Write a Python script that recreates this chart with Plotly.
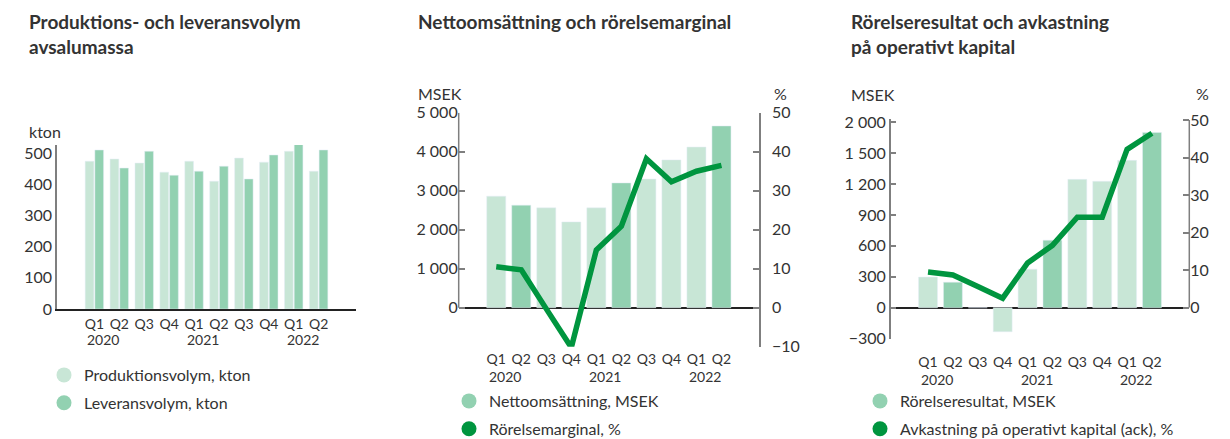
import plotly.graph_objects as go

# ---------------- data ----------------
quarters = ["Q1", "Q2", "Q3", "Q4", "Q1", "Q2", "Q3", "Q4", "Q1", "Q2"]
years = ["2020", "2021", "2022"]
year_idx = [0, 4, 8]

produktion = [474, 481, 468, 439, 474, 410, 484, 471, 506, 442]
leverans = [510, 452, 506, 429, 442, 458, 417, 494, 529, 510]

netto = [2860, 2630, 2560, 2200, 2560, 3200, 3300, 3790, 4120, 4660]
marginal = [10.5, 9.7, -0.3, -10.2, 14.8, 20.9, 38.2, 32.3, 35.0, 36.5]

resultat = [297, 248, 0, -232, 374, 655, 1245, 1226, 1429, 1700]
avkastning = [9.5, 8.7, 5.6, 2.5, 11.9, 16.6, 24.1, 24.1, 42.2, 46.5]

kton_ticks = [0, 100, 200, 300, 400, 500]
msek_ticks = [0, 1000, 2000, 3000, 4000, 5000]
pct_ticks_mid = [-10, 0, 10, 20, 30, 40, 50]
res_tickvals = [-300, 0, 300, 600, 900, 1200, 1500, 1800]
res_ticktext = ["\u2212300", "0", "300", "600", "900", "1 200", "1 500", "2 000"]
pct_ticks_right = [0, 10, 20, 30, 40, 50]

titles = ["Produktions- och leveransvolym<br>avsalumassa",
          "Nettoomsättning och rörelsemarginal",
          "Rörelseresultat och avkastning<br>på operativt kapital"]

# ---------------- style ----------------
LIGHT = "#c8e6d6"
DARK = "#92d1b1"
GREEN = "#00953f"
TXT = "#333333"
AX = "#7f7f7f"
FONT = "Lato"
W, H = 1230, 439

idx = list(range(len(quarters)))
colors_q2 = [DARK if q == "Q2" else LIGHT for q in quarters]

fig = go.Figure()

# chart 1
fig.add_trace(go.Bar(x=idx, y=produktion, marker_color=LIGHT, width=0.35, offset=-0.37,
                     xaxis="x", yaxis="y", showlegend=False))
fig.add_trace(go.Bar(x=idx, y=leverans, marker_color=DARK, width=0.35, offset=0.02,
                     xaxis="x", yaxis="y", showlegend=False))
# chart 2
fig.add_trace(go.Bar(x=idx, y=netto, marker_color=colors_q2, width=0.76,
                     xaxis="x2", yaxis="y2", showlegend=False))
fig.add_trace(go.Scatter(x=idx, y=marginal, mode="lines", line=dict(color=GREEN, width=5.5),
                         xaxis="x2", yaxis="y3", showlegend=False))
# chart 3
fig.add_trace(go.Bar(x=idx, y=resultat, marker_color=colors_q2, width=0.76,
                     xaxis="x3", yaxis="y4", showlegend=False))
fig.add_trace(go.Scatter(x=idx, y=avkastning, mode="lines", line=dict(color=GREEN, width=5.5),
                         xaxis="x3", yaxis="y5", showlegend=False))

# legend entries
def leg(name, color, legend, xa, ya, grp):
    fig.add_trace(go.Scatter(x=[None], y=[None], mode="markers", name=name,
                             marker=dict(color=color, size=15, symbol="circle"),
                             legend=legend, legendgroup=grp, xaxis=xa, yaxis=ya))

leg("Produktionsvolym, kton", LIGHT, "legend", "x", "y", "a1")
leg("Leveransvolym, kton", DARK, "legend", "x", "y", "a2")
leg("Nettoomsättning, MSEK", DARK, "legend2", "x2", "y2", "b1")
leg("Rörelsemarginal, %", GREEN, "legend2", "x2", "y2", "b2")
leg("Rörelseresultat, MSEK", DARK, "legend3", "x3", "y4", "c1")
leg("Avkastning på operativt kapital (ack), %", GREEN, "legend3", "x3", "y4", "c2")

def px_x(p):
    return p / W

def px_y(p):
    return 1 - p / H

tickfont = dict(size=16, color=TXT, family=FONT)
xtickfont = dict(size=14, color=TXT, family=FONT)

def xaxis(domain, anchor, standoff=0, line=False):
    return dict(domain=domain, anchor=anchor, range=[-1.5, 10.5], tickvals=idx, ticktext=quarters,
                showgrid=False, zeroline=False, showline=line, linecolor="#222222", linewidth=1.5,
                ticks="", tickfont=xtickfont, ticklabelstandoff=standoff, fixedrange=True)

legend_common = dict(xanchor="left", yanchor="middle", font=dict(size=16, color=TXT, family=FONT),
                     bgcolor="rgba(0,0,0,0)", traceorder="grouped", tracegroupgap=4,
                     itemclick=False, itemdoubleclick=False)

fig.update_layout(
    width=W, height=H,
    margin=dict(l=0, r=0, t=0, b=0, autoexpand=False),
    paper_bgcolor="white", plot_bgcolor="white",
    font=dict(family=FONT, color=TXT, size=16),
    separators=", ",
    barmode="overlay",
    xaxis=xaxis([px_x(57), px_x(356)], "y", standoff=1, line=True),
    yaxis=dict(domain=[px_y(309), px_y(145)], anchor="x", range=[0, 526], tickvals=kton_ticks,
               showgrid=False, zeroline=False, showline=True, linecolor=AX, linewidth=1.5,
               ticks="", tickfont=tickfont, fixedrange=True),
    xaxis2=xaxis([px_x(458.7), px_x(759)], "y2", standoff=2),
    yaxis2=dict(domain=[px_y(346.7), px_y(112.7)], anchor="x2", range=[-1000, 5000],
                tickvals=msek_ticks, separatethousands=True, showgrid=False,
                zeroline=True, zerolinecolor="#222222", zerolinewidth=1.5, showline=False,
                ticks="inside", ticklen=6, tickcolor=AX, tickwidth=1.5, tickfont=tickfont,
                fixedrange=True),
    yaxis3=dict(overlaying="y2", anchor="x2", side="right", range=[-10, 50], tickvals=pct_ticks_mid,
                showgrid=False, zeroline=False, showline=True, linecolor=AX, linewidth=1.5,
                ticks="inside", ticklen=6, tickcolor=AX, tickwidth=1.5, tickfont=tickfont,
                ticklabelstandoff=8, fixedrange=True),
    xaxis3=xaxis([px_x(890.7), px_x(1189.3)], "y4", standoff=13),
    yaxis4=dict(domain=[px_y(338.7), px_y(119)], anchor="x3", range=[-300, 1830],
                tickvals=res_tickvals, ticktext=res_ticktext, showgrid=False,
                zeroline=True, zerolinecolor="#222222", zerolinewidth=1.5, showline=True,
                linecolor=AX, linewidth=1.5,
                ticks="inside", ticklen=6, tickcolor=AX, tickwidth=1.5, tickfont=tickfont,
                fixedrange=True),
    yaxis5=dict(overlaying="y4", anchor="x3", side="right", range=[-8.3, 50.3],
                tickvals=pct_ticks_right, showgrid=False, zeroline=False, showline=False,
                ticks="inside", ticklen=6, tickcolor=AX, tickwidth=1.5, tickfont=tickfont,
                fixedrange=True),
    legend=dict(x=px_x(44), y=px_y(389), **legend_common),
    legend2=dict(x=px_x(449), y=px_y(415), **legend_common),
    legend3=dict(x=px_x(860), y=px_y(415), **legend_common),
)

# axis lines that cover only part of the range
fig.add_shape(type="line", xref="x2 domain", yref="y2", x0=0, x1=0, y0=0, y1=max(msek_ticks),
              line=dict(color=AX, width=1.5))
fig.add_shape(type="line", xref="x3 domain", yref="y5", x0=1, x1=1, y0=0, y1=max(pct_ticks_right),
              line=dict(color=AX, width=1.5))

# titles
for text, x in zip(titles, [27, 416, 849]):
    fig.add_annotation(text="<b>" + text + "</b>", xref="paper", yref="paper",
                       x=px_x(x), y=px_y(8), xanchor="left", yanchor="top", align="left",
                       showarrow=False, font=dict(size=19, color=TXT, family=FONT))

# unit labels
units = [("kton", 27, 132, "left"), ("MSEK", 416, 93, "left"), ("%", 789, 93, "right"),
         ("MSEK", 849, 94, "left"), ("%", 1211, 93, "right")]
for text, x, y, anc in units:
    fig.add_annotation(text=text, xref="paper", yref="paper", x=px_x(x), y=px_y(y),
                       xanchor=anc, yanchor="middle", showarrow=False,
                       font=dict(size=16, color=TXT, family=FONT))

# year labels
for xa, ypix in [("x", 339), ("x2", 376), ("x3", 379)]:
    for yr, i in zip(years, year_idx):
        fig.add_annotation(text=yr, xref=xa, yref="paper", x=i, y=px_y(ypix), xanchor="left",
                           yanchor="middle", xshift=-9, showarrow=False,
                           font=dict(size=14, color=TXT, family=FONT))

fig.write_html("out.html", config={"displayModeBar": False},
               post_script="document.body.style.margin='0';")
